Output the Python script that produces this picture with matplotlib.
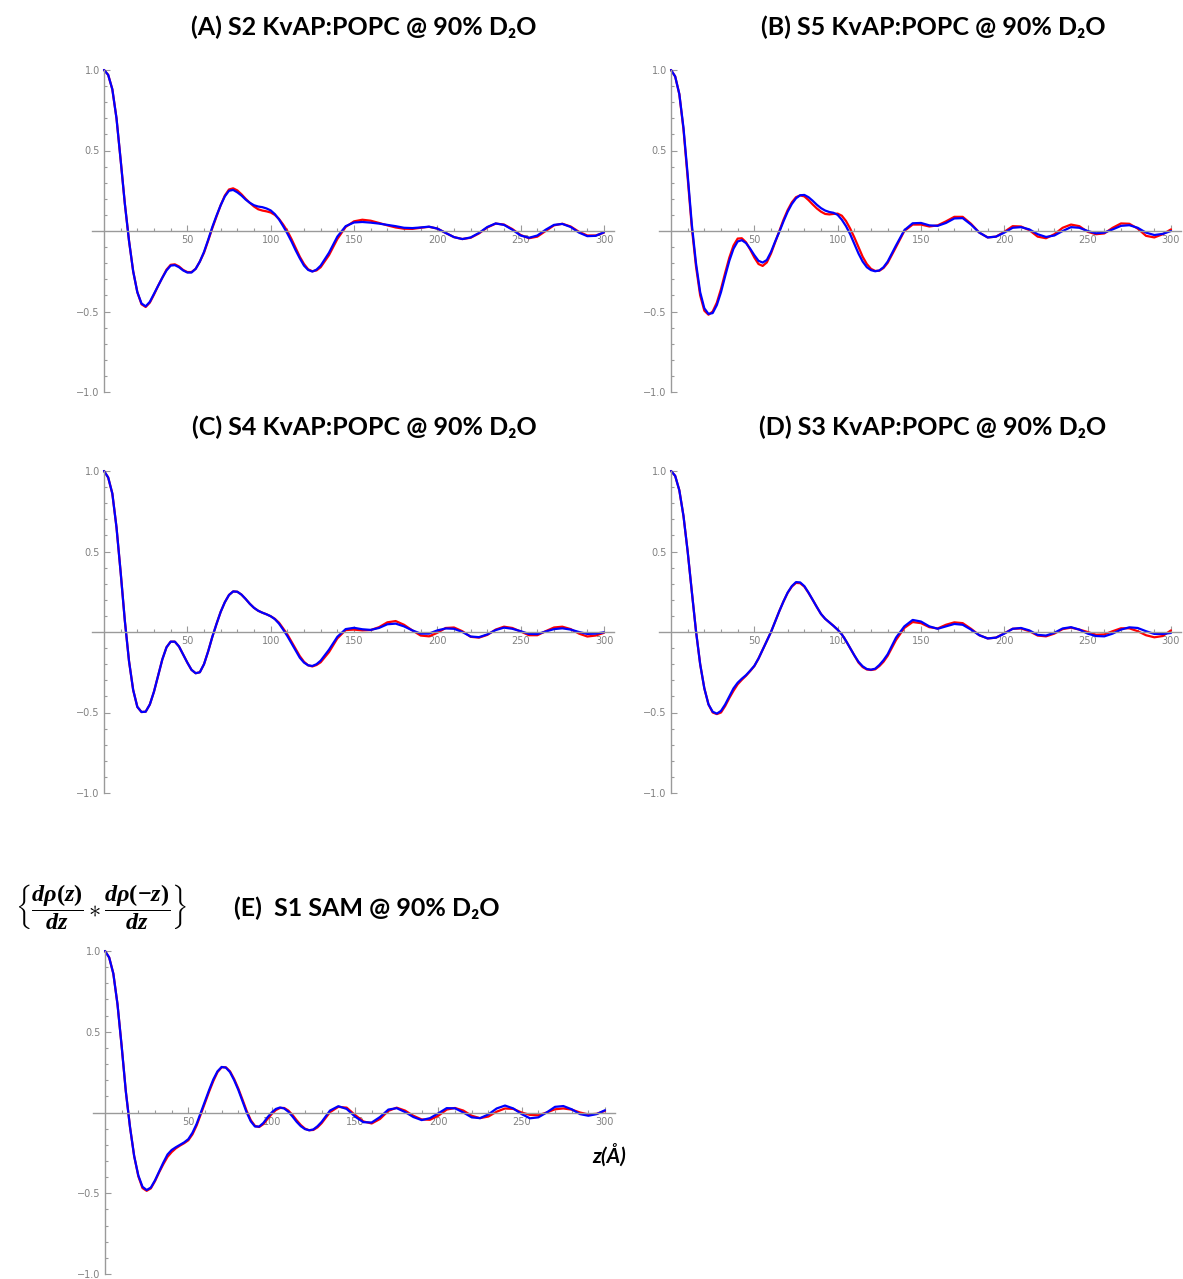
import matplotlib
matplotlib.use('Agg')
import matplotlib.pyplot as plt
from matplotlib.ticker import FixedLocator

plt.rcParams['mathtext.fontset'] = 'custom'
plt.rcParams['mathtext.rm'] = 'Liberation Serif:bold'
plt.rcParams['mathtext.bf'] = 'Liberation Serif:bold'
plt.rcParams['mathtext.it'] = 'Liberation Serif:bold:italic'

# ---------------- data ----------------
z_grid = [0, 2.5, 5, 7.5, 10, 12.5, 15, 17.5, 20, 22.5,
          25, 27.5, 30, 32.5, 35, 37.5, 40, 42.5, 45, 47.5,
          50, 52.5, 55, 57.5, 60, 62.5, 65, 67.5, 70, 72.5,
          75, 77.5, 80, 82.5, 85, 87.5, 90, 92.5, 95, 97.5,
          100, 102.5, 105, 107.5, 110, 112.5, 115, 117.5, 120, 122.5,
          125, 127.5, 130,
          135, 140, 145, 150, 155, 160, 165, 170, 175, 180,
          185, 190, 195, 200, 205, 210, 215, 220, 225, 230,
          235, 240, 245, 250, 255, 260, 265, 270, 275, 280,
          285, 290, 295, 300]

# (A) S2
A_red = [1.0, 0.97, 0.88, 0.70, 0.44, 0.17, -0.06, -0.25, -0.38, -0.455,
         -0.472, -0.445, -0.395, -0.34, -0.29, -0.24, -0.21, -0.207, -0.22, -0.242,
         -0.255, -0.255, -0.235, -0.19, -0.135, -0.06, 0.018, 0.09, 0.16, 0.22,
         0.258, 0.265, 0.252, 0.228, 0.2, 0.175, 0.152, 0.135, 0.127, 0.122,
         0.115, 0.1, 0.075, 0.04, 0.0, -0.05, -0.105, -0.16, -0.205, -0.238,
         -0.25, -0.245, -0.225,
         -0.15, -0.05, 0.025, 0.06, 0.07, 0.064, 0.05, 0.035, 0.022, 0.014,
         0.013, 0.02, 0.026, 0.015, -0.012, -0.038, -0.05, -0.042, -0.015, 0.022,
         0.046, 0.04, 0.012, -0.025, -0.045, -0.035, 0.0, 0.035, 0.045, 0.028,
         -0.005, -0.028, -0.028, -0.01]
A_blue = [1.0, 0.97, 0.88, 0.70, 0.44, 0.17, -0.06, -0.25, -0.38, -0.45,
          -0.468, -0.44, -0.39, -0.34, -0.29, -0.245, -0.215, -0.212, -0.225, -0.245,
          -0.258, -0.258, -0.235, -0.19, -0.13, -0.055, 0.025, 0.095, 0.16, 0.215,
          0.25, 0.255, 0.24, 0.22, 0.195, 0.175, 0.16, 0.152, 0.148, 0.14,
          0.128, 0.105, 0.072, 0.03, -0.015, -0.065, -0.12, -0.17, -0.215, -0.242,
          -0.252, -0.24, -0.215,
          -0.135, -0.035, 0.03, 0.053, 0.056, 0.052, 0.046, 0.038, 0.03, 0.02,
          0.018, 0.022, 0.027, 0.015, -0.012, -0.038, -0.05, -0.04, -0.012, 0.025,
          0.047, 0.038, 0.008, -0.028, -0.042, -0.028, 0.008, 0.038, 0.044, 0.025,
          -0.01, -0.032, -0.03, -0.008]

# (B) S5
B_red = [1.0, 0.96, 0.85, 0.63, 0.33, 0.02, -0.22, -0.40, -0.495, -0.52,
         -0.5, -0.445, -0.36, -0.26, -0.165, -0.09, -0.047, -0.045, -0.07, -0.115,
         -0.165, -0.205, -0.217, -0.195, -0.14, -0.07, 0.0, 0.07, 0.13, 0.178,
         0.21, 0.221, 0.215, 0.192, 0.165, 0.14, 0.12, 0.106, 0.103, 0.106,
         0.108, 0.095, 0.062, 0.015, -0.04, -0.1, -0.16, -0.205, -0.235, -0.248,
         -0.247, -0.23, -0.198,
         -0.1, 0.0, 0.04, 0.04, 0.028, 0.035, 0.06, 0.088, 0.088, 0.045,
         -0.01, -0.04, -0.035, -0.005, 0.03, 0.028, 0.005, -0.035, -0.045, -0.02,
         0.02, 0.04, 0.03, -0.005, -0.02, -0.015, 0.02, 0.047, 0.045, 0.015,
         -0.03, -0.04, -0.02, 0.01]
B_blue = [1.0, 0.96, 0.85, 0.64, 0.35, 0.04, -0.20, -0.38, -0.48, -0.515,
          -0.51, -0.46, -0.38, -0.28, -0.185, -0.11, -0.065, -0.057, -0.075, -0.11,
          -0.15, -0.185, -0.196, -0.18, -0.13, -0.065, -0.005, 0.06, 0.12, 0.168,
          0.203, 0.222, 0.224, 0.21, 0.188, 0.163, 0.142, 0.127, 0.118, 0.113,
          0.1, 0.07, 0.03, -0.02, -0.08, -0.14, -0.19, -0.225, -0.243, -0.25,
          -0.245, -0.225, -0.19,
          -0.09, 0.005, 0.048, 0.05, 0.035, 0.032, 0.05, 0.078, 0.08, 0.04,
          -0.01, -0.04, -0.035, -0.01, 0.02, 0.024, 0.01, -0.02, -0.037, -0.028,
          0.0, 0.024, 0.02, 0.0, -0.014, -0.01, 0.01, 0.032, 0.036, 0.02,
          -0.01, -0.025, -0.018, 0.0]

# (C) S4
C_red = [1.0, 0.96, 0.86, 0.65, 0.37, 0.07, -0.18, -0.36, -0.465, -0.497,
         -0.495, -0.45, -0.37, -0.27, -0.17, -0.095, -0.06, -0.06, -0.09, -0.14,
         -0.19, -0.235, -0.256, -0.25, -0.2, -0.12, -0.03, 0.05, 0.125, 0.185,
         0.23, 0.252, 0.25, 0.232, 0.205, 0.175, 0.15, 0.132, 0.12, 0.11,
         0.098, 0.082, 0.058, 0.022, -0.015, -0.06, -0.105, -0.15, -0.185, -0.207,
         -0.214, -0.205, -0.188,
         -0.125, -0.04, 0.012, 0.015, 0.01, 0.012, 0.03, 0.06, 0.068, 0.045,
         0.01, -0.022, -0.027, -0.005, 0.025, 0.028, 0.005, -0.03, -0.035, -0.018,
         0.015, 0.033, 0.025, 0.003, -0.02, -0.02, 0.005, 0.028, 0.033, 0.018,
         -0.01, -0.028, -0.022, -0.005]
C_blue = [1.0, 0.96, 0.86, 0.65, 0.37, 0.07, -0.18, -0.36, -0.465, -0.497,
          -0.495, -0.45, -0.37, -0.27, -0.17, -0.095, -0.06, -0.06, -0.09, -0.14,
          -0.19, -0.235, -0.256, -0.25, -0.2, -0.12, -0.03, 0.05, 0.125, 0.185,
          0.23, 0.252, 0.25, 0.232, 0.205, 0.175, 0.15, 0.132, 0.12, 0.11,
          0.098, 0.08, 0.052, 0.015, -0.025, -0.07, -0.115, -0.16, -0.19, -0.207,
          -0.211, -0.2, -0.178,
          -0.11, -0.03, 0.018, 0.026, 0.017, 0.013, 0.025, 0.048, 0.052, 0.035,
          0.01, -0.01, -0.01, 0.01, 0.022, 0.02, 0.0, -0.028, -0.032, -0.015,
          0.012, 0.027, 0.02, 0.005, -0.012, -0.013, 0.003, 0.018, 0.023, 0.015,
          0.0, -0.012, -0.01, -0.002]

# (D) S3
D_red = [1.0, 0.97, 0.88, 0.72, 0.5, 0.25, 0.005, -0.2, -0.35, -0.45,
         -0.5, -0.51, -0.5, -0.46, -0.41, -0.365, -0.325, -0.297, -0.272, -0.243,
         -0.212, -0.165, -0.11, -0.055, 0.0, 0.065, 0.13, 0.19, 0.243, 0.282,
         0.305, 0.303, 0.282, 0.243, 0.2, 0.155, 0.112, 0.082, 0.06, 0.038,
         0.014, -0.015, -0.055, -0.1, -0.145, -0.19, -0.218, -0.233, -0.236, -0.232,
         -0.212, -0.185, -0.148,
         -0.05, 0.025, 0.062, 0.055, 0.03, 0.022, 0.045, 0.06, 0.055, 0.02,
         -0.02, -0.04, -0.035, -0.008, 0.02, 0.022, 0.005, -0.022, -0.027, -0.01,
         0.018, 0.027, 0.015, 0.0, -0.017, -0.015, 0.005, 0.023, 0.023, 0.005,
         -0.02, -0.033, -0.025, 0.01]
D_blue = [1.0, 0.97, 0.88, 0.72, 0.5, 0.25, 0.005, -0.2, -0.35, -0.45,
          -0.495, -0.507, -0.49, -0.45, -0.4, -0.35, -0.315, -0.29, -0.268, -0.24,
          -0.21, -0.165, -0.11, -0.055, 0.0, 0.065, 0.13, 0.19, 0.245, 0.285,
          0.31, 0.308, 0.285, 0.245, 0.2, 0.155, 0.112, 0.082, 0.06, 0.038,
          0.014, -0.015, -0.055, -0.1, -0.145, -0.185, -0.213, -0.23, -0.234, -0.228,
          -0.205, -0.175, -0.138,
          -0.035, 0.035, 0.075, 0.065, 0.035, 0.02, 0.035, 0.05, 0.045, 0.015,
          -0.02, -0.04, -0.035, -0.01, 0.02, 0.025, 0.01, -0.018, -0.022, -0.005,
          0.022, 0.03, 0.015, -0.01, -0.025, -0.027, -0.01, 0.015, 0.029, 0.025,
          0.005, -0.012, -0.012, -0.006]

# (E) S1
E_red = [1.0, 0.96, 0.86, 0.67, 0.41, 0.13, -0.09, -0.27, -0.395, -0.468,
         -0.485, -0.47, -0.425, -0.37, -0.32, -0.275, -0.245, -0.222, -0.205, -0.19,
         -0.172, -0.135, -0.08, -0.01, 0.06, 0.13, 0.195, 0.25, 0.28, 0.28,
         0.255, 0.207, 0.148, 0.08, 0.01, -0.048, -0.083, -0.09, -0.072, -0.04,
         -0.01, 0.015, 0.028, 0.028, 0.012, -0.015, -0.048, -0.078, -0.1, -0.11,
         -0.108, -0.092, -0.066,
         0.002, 0.035, 0.03, -0.015, -0.055, -0.068, -0.04, 0.01, 0.03, 0.012,
         -0.02, -0.043, -0.045, -0.02, 0.018, 0.028, 0.012, -0.02, -0.035, -0.025,
         0.005, 0.025, 0.022, 0.0, -0.015, -0.017, 0.0, 0.02, 0.025, 0.018,
         0.0, -0.012, -0.008, 0.01]
E_blue = [1.0, 0.96, 0.86, 0.67, 0.41, 0.13, -0.09, -0.27, -0.39, -0.46,
          -0.48, -0.465, -0.42, -0.365, -0.31, -0.26, -0.232, -0.215, -0.2, -0.185,
          -0.165, -0.125, -0.07, 0.0, 0.07, 0.14, 0.205, 0.255, 0.282, 0.278,
          0.25, 0.2, 0.14, 0.07, 0.0, -0.055, -0.087, -0.087, -0.065, -0.03,
          0.0, 0.022, 0.031, 0.025, 0.005, -0.025, -0.058, -0.085, -0.103, -0.11,
          -0.105, -0.085, -0.058,
          0.012, 0.039, 0.022, -0.025, -0.06, -0.062, -0.028, 0.018, 0.027, 0.003,
          -0.028, -0.047, -0.035, -0.005, 0.027, 0.026, 0.0, -0.03, -0.035, -0.012,
          0.025, 0.043, 0.025, -0.01, -0.036, -0.03, 0.0, 0.035, 0.04, 0.02,
          -0.01, -0.02, -0.01, 0.014]

titles = ["(A) S2 KvAP:POPC @ 90% D\u2082O",
          "(B) S5 KvAP:POPC @ 90% D\u2082O",
          "(C) S4 KvAP:POPC @ 90% D\u2082O",
          "(D) S3 KvAP:POPC @ 90% D\u2082O",
          "(E)  S1 SAM @ 90% D\u2082O"]
series = [(A_red, A_blue), (B_red, B_blue), (C_red, C_blue), (D_red, D_blue), (E_red, E_blue)]

x_major = [50, 100, 150, 200, 250, 300]
x_minor = [10, 20, 30, 40, 60, 70, 80, 90, 110, 120, 130, 140, 160, 170, 180, 190,
           210, 220, 230, 240, 260, 270, 280, 290]
y_major = [-1.0, -0.5, 0.5, 1.0]
y_major_labels = ["\u22121.0", "\u22120.5", "0.5", "1.0"]
y_minor = [-0.9, -0.8, -0.7, -0.6, -0.4, -0.3, -0.2, -0.1, 0.1, 0.2, 0.3, 0.4, 0.6, 0.7, 0.8, 0.9]

# ---------------- layout ----------------
W, H = 1183, 1279
fig = plt.figure(figsize=(W / 100, H / 100), dpi=100)

XMIN, XMAX = -7, 306
PXZ = 500 / 300.0
AX_COL = '#9a9a9a'
LB_COL = '#808080'

# (y-axis pixel x, pixel of +1.0, pixel of -1.0, title x, title y)
panels = [(104, 70, 392, 364, 27),
          (671, 70, 392, 933, 27),
          (104, 471, 793, 364, 427),
          (671, 471, 793, 933, 427),
          (105, 951, 1274, 367, 908)]

for (x0, y1, ym1, tx, ty), (red, blue), title in zip(panels, series, titles):
    left = x0 + XMIN * PXZ
    right = x0 + XMAX * PXZ
    pu = (ym1 - y1) / 2.0
    top = y1 - 0.02 * pu
    bot = ym1 + 0.02 * pu
    ax = fig.add_axes([left / W, 1 - bot / H, (right - left) / W, (bot - top) / H])
    ax.set_xlim(XMIN, XMAX)
    ax.set_ylim(-1.02, 1.02)
    ax.patch.set_alpha(0)
    for s in ['top', 'right']:
        ax.spines[s].set_visible(False)
    ax.spines['left'].set_position(('data', 0))
    ax.spines['left'].set_bounds(-1, 1)
    ax.spines['bottom'].set_position(('data', 0))
    for s in ['left', 'bottom']:
        ax.spines[s].set_color(AX_COL)
        ax.spines[s].set_linewidth(1.0)
    ax.xaxis.set_major_locator(FixedLocator(x_major))
    ax.xaxis.set_minor_locator(FixedLocator(x_minor))
    ax.yaxis.set_major_locator(FixedLocator(y_major))
    ax.yaxis.set_minor_locator(FixedLocator(y_minor))
    ax.set_xticklabels([str(v) for v in x_major])
    ax.set_yticklabels(y_major_labels)
    ax.tick_params(which='both', direction='in', color=AX_COL, labelcolor=LB_COL,
                   labelsize=7, width=0.8)
    ax.tick_params(which='major', length=4, pad=3)
    ax.tick_params(which='minor', length=2.5)
    ax.plot(z_grid, red, color='#ff0000', lw=1.6, solid_joinstyle='round',
            solid_capstyle='round', clip_on=False)
    ax.plot(z_grid, blue, color='#0000ff', lw=1.6, solid_joinstyle='round',
            solid_capstyle='round', clip_on=False)
    fig.text(tx / W, 1 - ty / H, title, ha='center', va='center', fontsize=18,
             fontweight='bold', family=['Lato', 'DejaVu Sans'])

fig.text(101 / W, 1 - 907 / H,
         r"$\left\{\dfrac{d\rho(z)}{dz}\ast\dfrac{d\rho(-z)}{dz}\right\}$",
         ha='center', va='center', fontsize=17.5)
fig.text(609 / W, 1 - 1155 / H, "z(Å)", ha='center', va='center', fontsize=15,
         fontweight='bold', fontstyle='italic', family='Lato')

fig.savefig('out.png', dpi=100)
